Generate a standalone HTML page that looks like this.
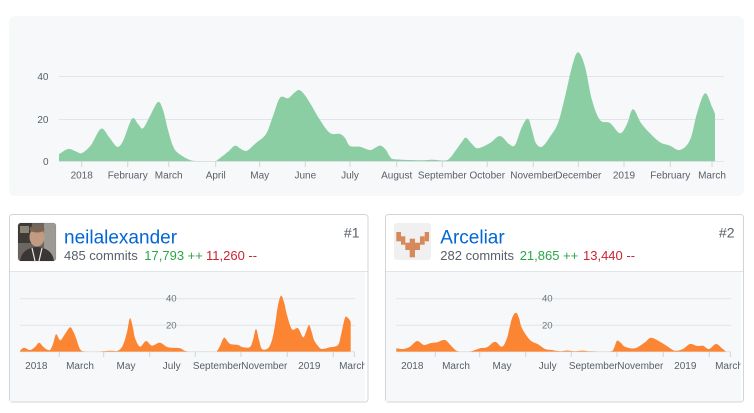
<!DOCTYPE html>
<html><head><meta charset="utf-8">
<style>
html,body{margin:0;padding:0;background:#fff;width:754px;height:413px;overflow:hidden}
svg{display:block;font-family:"Liberation Sans",Arial,sans-serif}
</style></head>
<body>
<svg id="s" width="754" height="413" viewBox="0 0 754 413" xmlns="http://www.w3.org/2000/svg">
<defs>
<clipPath id="cm"><rect x="59" y="0" width="656" height="161.3"/></clipPath>
<clipPath id="c1"><rect x="10" y="272" width="354.7" height="129"/></clipPath>
<clipPath id="c2"><rect x="386" y="272" width="354.7" height="129"/></clipPath>
<clipPath id="ca1"><rect x="20" y="0" width="340" height="351.7"/></clipPath>
<clipPath id="ca2"><rect x="396" y="0" width="340" height="351.7"/></clipPath>
<clipPath id="av1"><rect x="18" y="223" width="38" height="38" rx="3"/></clipPath>
</defs>

<!-- main panel -->
<rect x="9" y="16" width="735" height="180" rx="6" fill="#f6f8fa"/>
<g stroke="#e1e4e8" stroke-width="1">
<line x1="59" x2="724" y1="76.5" y2="76.5"/>
<line x1="59" x2="724" y1="119.5" y2="119.5"/>
<line x1="59" x2="724" y1="161.5" y2="161.5"/>
</g>
<g font-size="10" fill="#586069" text-anchor="end">
<text x="48.5" y="80">40</text>
<text x="48.5" y="123">20</text>
<text x="48.5" y="165">0</text>
</g>
<path id="pm" fill="#8ccea3" clip-path="url(#cm)" d=""/>
<g id="mticks" stroke="#d1d5da" stroke-width="1"></g>
<g font-size="10" fill="#586069" text-anchor="middle">
<text x="81.7" y="178.3">2018</text>
<text x="127.7" y="178.3">February</text>
<text x="168.7" y="178.3">March</text>
<text x="215.7" y="178.3">April</text>
<text x="259.7" y="178.3">May</text>
<text x="305.3" y="178.3">June</text>
<text x="350" y="178.3">July</text>
<text x="396.7" y="178.3">August</text>
<text x="442.3" y="178.3">September</text>
<text x="487.3" y="178.3">October</text>
<text x="533.3" y="178.3">November</text>
<text x="578.3" y="178.3">December</text>
<text x="624" y="178.3">2019</text>
<text x="670.3" y="178.3">February</text>
<text x="712" y="178.3">March</text>
</g>

<!-- card 1 -->
<rect x="9.5" y="214.5" width="358.5" height="187.5" rx="3" fill="#fff" stroke="#d1d5da"/>
<rect x="10" y="272" width="354.7" height="129.5" fill="#f6f8fa"/>
<line x1="10" x2="367.5" y1="271.5" y2="271.5" stroke="#e1e4e8"/>
<g clip-path="url(#av1)">
<rect x="18" y="223" width="38" height="38" fill="#6b665f"/>
<rect x="18" y="223" width="14" height="20" fill="#3e3b37"/>
<rect x="44" y="223" width="12" height="38" fill="#9c9a94"/>
<rect x="20" y="226" width="9" height="7" fill="#8a8478"/>
<ellipse cx="37" cy="237" rx="7.5" ry="9.5" fill="#c39a82"/>
<ellipse cx="37" cy="229" rx="7.5" ry="3.5" fill="#7b6552"/>
<path d="M20 261 Q22 248 37 247 Q52 248 54 261 Z" fill="#3b3536"/>
<path d="M32 248 L35 261 M42 248 L39 261" stroke="#e8e8e8" stroke-width="1.2"/>
</g>
<rect x="18" y="223" width="38" height="38" rx="3" fill="none" stroke="rgba(0,0,0,0.08)"/>
<text x="64" y="243.5" font-size="19" fill="#0366d6">neilalexander</text>
<text x="64" y="260" font-size="13" fill="#586069">485 commits <tspan x="144.3" fill="#28a745">17,793 ++</tspan><tspan x="206" fill="#cb2431">11,260 --</tspan></text>
<text x="359.5" y="237.3" font-size="14" fill="#586069" text-anchor="end">#1</text>

<!-- card 2 -->
<rect x="385.5" y="214.5" width="358" height="187.5" rx="3" fill="#fff" stroke="#d1d5da"/>
<rect x="386" y="272" width="354.7" height="129.5" fill="#f6f8fa"/>
<line x1="386" x2="743" y1="271.5" y2="271.5" stroke="#e1e4e8"/>
<rect x="394" y="223" width="37" height="37" rx="3" fill="#f0f0f0"/>
<g fill="#d6895a">
<rect x="396.3" y="232" width="4.7" height="9.3"/>
<rect x="401" y="236.3" width="4.3" height="8.4"/>
<rect x="409.7" y="238.7" width="5.3" height="18.6"/>
<rect x="405.3" y="242.7" width="14.7" height="7.3"/>
<rect x="420" y="236.3" width="4.7" height="8.4"/>
<rect x="424.7" y="232" width="4.3" height="9.3"/>
</g>
<text x="440.3" y="243.5" font-size="19" fill="#0366d6">Arceliar</text>
<text x="440.3" y="260" font-size="13" fill="#586069">282 commits <tspan x="519.7" fill="#28a745">21,865 ++</tspan><tspan x="583" fill="#cb2431">13,440 --</tspan></text>
<text x="734.5" y="237.3" font-size="14" fill="#586069" text-anchor="end">#2</text>

<g id="card1" clip-path="url(#c1)"></g>
<g id="card2" clip-path="url(#c2)"></g>
</svg>

<script>
(function(){
var NS="http://www.w3.org/2000/svg";
function cr(pts){
  var d="M"+pts[0][0]+" "+pts[0][1];
  for(var i=0;i<pts.length-1;i++){
    var p0=pts[i>0?i-1:i],p1=pts[i],p2=pts[i+1],p3=pts[i+2<pts.length?i+2:i+1];
    var c1x=p1[0]+(p2[0]-p0[0])/6,c1y=p1[1]+(p2[1]-p0[1])/6;
    var c2x=p2[0]-(p3[0]-p1[0])/6,c2y=p2[1]-(p3[1]-p1[1])/6;
    d+=" C"+c1x.toFixed(2)+" "+c1y.toFixed(2)+" "+c2x.toFixed(2)+" "+c2y.toFixed(2)+" "+p2[0]+" "+p2[1];
  }
  return d;
}
function area(pts,base){
  var f=pts[0],l=pts[pts.length-1];
  return "M"+f[0]+" "+base+" L"+cr(pts).slice(1)+" L"+l[0]+" "+base+" Z";
}
function el(tag,attrs,parent,txt){
  var e=document.createElementNS(NS,tag);
  for(var k in attrs)e.setAttribute(k,attrs[k]);
  if(txt)e.textContent=txt;
  parent.appendChild(e);return e;
}
var main=[[59,154.3],[68,149],[76,151.5],[82,153],[91,145],[101,128.7],[109,137],[117,146.7],[123,141],[132,118.7],[138,124],[143,128.3],[150,116],[158,102],[163,110],[168,130],[173,146],[178,153],[190,160],[200,161],[215,161],[218,159.5],[228,151.7],[235,145.7],[241,149],[247,150.7],[256,143],[266,134],[273,116],[280,97.7],[288,98.3],[294,93],[299,90],[304,94],[310,103],[320,120],[330,133],[340,134],[345,138],[350,146],[360,146.7],[370,150],[377,146.7],[381,145.7],[386,150],[390,156.7],[395,159.3],[420,160.3],[432,159.7],[445,160.5],[450,158],[456,150],[462,141.7],[466,137.7],[472,144],[478,148.3],[490,143],[500,136],[509,144],[515,145],[522,126.7],[528,118.7],[532,130],[536,143.3],[542,146.7],[550,136.7],[558,123],[565,96.7],[572,66.7],[578,52.3],[585,66.7],[592,100],[600,120],[610,123],[620,133.3],[627,124],[633,109.3],[641,123],[650,133.3],[660,142.3],[670,145.7],[680,150],[690,140],[697,113.3],[705,93.3],[712,106.7],[715,114]];
document.getElementById("pm").setAttribute("d",area(main,161.3));
var mt=document.getElementById("mticks");
[81.7,127.7,168.7,215.7,259.7,305.3,350,396.7,442.3,487.3,533.3,578.3,624,670.3,712].forEach(function(x){
  el("line",{x1:x,x2:x,y1:161.5,y2:167},mt);
});
var d1=[[20,350.7],[24,347.7],[30,350],[35,347],[39,342.7],[43,346.5],[46,349],[50,350],[53,344],[56,334.3],[59,339],[61,340],[65,334],[70,327.3],[73,331],[76,338],[80,349],[85,351.5],[100,351.5],[110,350.8],[118,350.7],[123,345],[127,332],[130,318.3],[133,328],[135,338],[140,346.7],[146,341],[152,345.7],[160,342.7],[168,347.3],[180,348.3],[188,351.5],[215,351.7],[217,351],[220,346],[224,337.7],[228,342],[231,344.3],[238,345],[243,347.3],[250,347],[253,340],[256,329],[259,340],[262,349],[268,348.3],[272,340],[275,325],[278,305],[281,295.7],[284,302],[287,315],[292,329.3],[298,328.3],[303,337.3],[306,332],[309,325],[312,333],[314,340],[318,346],[322,349],[330,347.3],[338,345],[341,335],[345,317.7],[348,318],[350.7,321.7]];
var d2=[[396.3,348.3],[403,349],[410,346.7],[417,341],[424,345],[430,343.3],[437,342.3],[445,340],[452,346.7],[458,351.3],[470,351.5],[480,348.3],[487,347.3],[495,341.7],[502,346.7],[507,338],[512,318.3],[516,312.7],[519,318],[522,328.3],[530,340],[538,344.3],[545,349],[552,350],[560,351.2],[567,350.5],[575,351.2],[583,350.6],[590,351.3],[610,351.5],[614,348],[617,340.7],[621,343],[625,346.7],[635,348.3],[645,342.3],[651,337.7],[660,341.7],[668,346.7],[675,350.7],[683,349],[690,344],[697,346],[703,345.7],[709,349],[716,344],[722,348.3],[726,351.7]];
function card(gid,off,data,cid){
  var g=document.getElementById(gid);
  [298.7,325.3].forEach(function(y){
    el("line",{x1:20+off,x2:355+off,y1:y,y2:y,stroke:"#e1e4e8"},g);
  });
  el("line",{x1:20+off,x2:355+off,y1:351.7,y2:351.7,stroke:"#e1e4e8"},g);
  el("text",{x:171.3+off,y:301.7,"font-size":"9.6",fill:"#6a737d","text-anchor":"middle"},g,"40");
  el("text",{x:171.3+off,y:328.5,"font-size":"9.6",fill:"#6a737d","text-anchor":"middle"},g,"20");
  el("path",{d:area(data,351.7),fill:"#fb8532","clip-path":"url(#"+cid+")"},g);
  [59.3,103.7,149.7,195.3,241,287.3,333.3,354.3].forEach(function(x){
    el("line",{x1:x+off,x2:x+off,y1:351.7,y2:357,stroke:"#d1d5da"},g);
  });
  var labs=[[36.3,"2018"],[80,"March"],[126,"May"],[171.7,"July"],[217.3,"September"],[264.3,"November"],[309.3,"2019"],[353,"March"]];
  labs.forEach(function(l){
    el("text",{x:l[0]+off,y:369,"font-size":"10",fill:"#586069","text-anchor":"middle"},g,l[1]);
  });
}
card("card1",0,d1,"ca1");
card("card2",376,d2,"ca2");
})();
</script>
</body></html>
